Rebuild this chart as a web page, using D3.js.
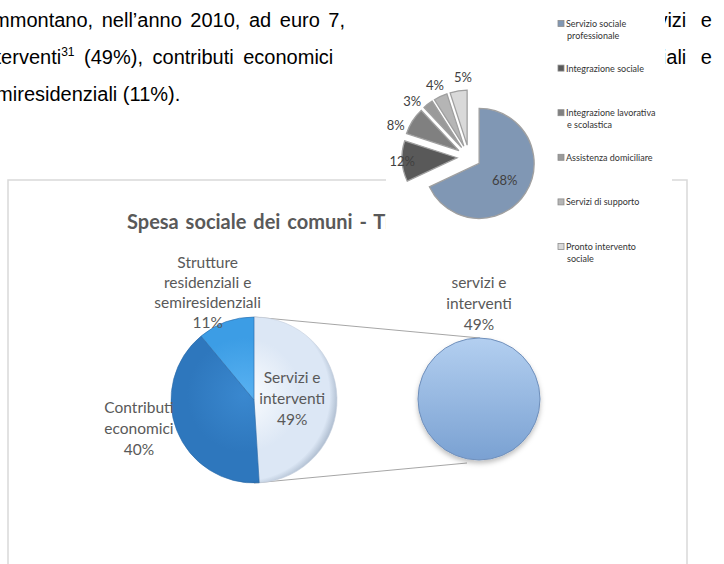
<!DOCTYPE html>
<html>
<head>
<meta charset="utf-8">
<script src="https://cdn.jsdelivr.net/npm/d3@7"></script>
<style>
  body { margin: 0; background: #fff; }
  svg { display: block; }
</style>
</head>
<body>
<div id="chart-area"></div>
<script>
// text of the page around the chart
let docLeft = ["ammontano, nell’anno 2010, ad euro 7,", "interventi", "semiresidenziali (11%)."];
let docLeftTail = ["", " (49%), contributi economici", ""];
let docRight = ["servizi e", "residenziali e", ""];

// main chart (pie of pie)
let mainTitle = "Spesa sociale dei comuni - Tipologia di spesa";
let mainCategories = ["Servizi e interventi", "Contributi economici", "Strutture residenziali e semiresidenziali"];
let mainValues = [49, 40, 11];
let mainLabels = [["Servizi e", "interventi", "49%"], ["Contributi", "economici", "40%"], ["Strutture", "residenziali e", "semiresidenziali", "11%"]];
let secondLabel = ["servizi e", "interventi", "49%"];

// small chart laid on top
let subCategories = ["Servizio sociale professionale", "Integrazione sociale", "Integrazione lavorativa e scolastica",
                     "Assistenza domiciliare", "Servizi di supporto", "Pronto intervento sociale"];
let subValues = [68, 12, 8, 3, 4, 5];
let subLegend = [["Servizio sociale", "professionale"], ["Integrazione sociale"], ["Integrazione lavorativa", "e scolastica"],
                 ["Assistenza domiciliare"], ["Servizi di supporto"], ["Pronto intervento", "sociale"]];

let width = 724, height = 564;

let svg = d3.select("#chart-area")
    .append("svg")
    .attr("width", width)
    .attr("height", height);

let defs = svg.append("defs");

// ---------- page text ----------
let docFont = "'Liberation Sans', Arial, sans-serif";
let docY = [27, 64, 101];
let docX = [-18, -20, -25];
let docSpacing = [3, 4, 0];

docLeft.forEach(function(t, i) {
    let tx = svg.append("text")
        .attr("x", docX[i])
        .attr("y", docY[i])
        .attr("font-family", docFont)
        .attr("font-size", "20px")
        .attr("word-spacing", docSpacing[i])
        .attr("fill", "#000");
    tx.append("tspan").text(t);
    if (i == 1) {
        tx.append("tspan").attr("font-size", "12px").attr("dy", -8).text("31");
        tx.append("tspan").attr("dy", 8).text(docLeftTail[i]);
    }
});

docRight.forEach(function(t, i) {
    svg.append("text")
        .attr("x", 712)
        .attr("y", docY[i])
        .attr("text-anchor", "end")
        .attr("font-family", docFont)
        .attr("font-size", "20px")
        .attr("word-spacing", 9)
        .text(t);
});

// ---------- main chart ----------
let chartFont = "Lato, 'Open Sans', sans-serif";

svg.append("rect")
    .attr("x", 8).attr("y", 180)
    .attr("width", 679).attr("height", 420)
    .attr("fill", "none")
    .attr("stroke", "#d9d9d9")
    .attr("stroke-width", 1.5);

svg.append("text")
    .attr("x", 127).attr("y", 229)
    .attr("font-family", chartFont)
    .attr("font-size", "20px")
    .attr("font-weight", "bold")
    .attr("word-spacing", 2)
    .attr("fill", "#595959")
    .text(mainTitle);

let pcx = 254, pcy = 400, pr = 83;
let mainColors = [["#fbfdff", "#dce7f5", "#aab9cc"], ["#3a88cf", "#2e77bd", "#24609a"], ["#58b1f1", "#3c9de5", "#2f82c2"]];

mainColors.forEach(function(c, i) {
    let gr = defs.append("radialGradient")
        .attr("id", "mg" + i)
        .attr("gradientUnits", "userSpaceOnUse")
        .attr("cx", -10).attr("cy", -5).attr("r", pr + 12);
    gr.append("stop").attr("offset", "0").attr("stop-color", c[0]);
    gr.append("stop").attr("offset", "0.6").attr("stop-color", c[1]);
    gr.append("stop").attr("offset", "0.9").attr("stop-color", c[1]);
    gr.append("stop").attr("offset", "1").attr("stop-color", c[2]);
});

let pie = d3.pie().sort(null).value(function(d) { return d; });
let mainArcs = pie(mainValues);
let arc = d3.arc().innerRadius(0).outerRadius(pr);

// connector lines to the second circle
let scx = 479, scy = 399, sr = 61;
let lineColor = "#a6a6a6";
svg.append("line")
    .attr("x1", pcx).attr("y1", pcy - pr)
    .attr("x2", scx + 1).attr("y2", scy - sr)
    .attr("stroke", lineColor).attr("stroke-width", 1);
svg.append("line")
    .attr("x1", pcx).attr("y1", pcy + pr)
    .attr("x2", scx - 12).attr("y2", scy + sr + 3)
    .attr("stroke", lineColor).attr("stroke-width", 1);

let pg = svg.append("g").attr("transform", "translate(" + pcx + "," + pcy + ")");

pg.selectAll("path")
    .data(mainArcs)
    .enter()
    .append("path")
    .attr("d", arc)
    .attr("fill", function(d, i) { return "url(#mg" + i + ")"; })
    .attr("stroke", function(d, i) { return i == 0 ? "#c2cddb" : "#2a6aa8"; })
    .attr("stroke-width", 0.6);

// labels
let labelArc = d3.arc().innerRadius(pr * 1.4).outerRadius(pr * 1.4);
let insideArc = d3.arc().innerRadius(pr * 0.46).outerRadius(pr * 0.46);
mainArcs.forEach(function(d, i) {
    let lines = mainLabels[i];
    let p = i == 0 ? insideArc.centroid(d) : labelArc.centroid(d);
    if (i == 1) { p[0] -= 7; p[1] -= 14; }
    if (i == 2) { p[0] -= 7; p[1] += 2; }
    let lh = i == 2 ? 20 : 21;
    let y0 = p[1] - (lines.length - 1) * lh / 2;
    let t = pg.append("text")
        .attr("text-anchor", "middle")
        .attr("font-family", chartFont)
        .attr("font-size", "15.5px")
        .attr("fill", "#595959");
    lines.forEach(function(l, j) {
        t.append("tspan").attr("x", p[0]).attr("y", y0 + j * lh + 5).text(l);
    });
});

// second circle: the 49% slice shown whole
let sg = defs.append("linearGradient").attr("id", "sg").attr("x1", 0).attr("y1", 0).attr("x2", 0).attr("y2", 1);
sg.append("stop").attr("offset", "0").attr("stop-color", "#b3cff0");
sg.append("stop").attr("offset", "1").attr("stop-color", "#7aa1d2");
let sh = defs.append("filter").attr("id", "shadow").attr("x", "-20%").attr("y", "-20%").attr("width", "140%").attr("height", "150%");
sh.append("feDropShadow").attr("dx", 0).attr("dy", 3).attr("stdDeviation", 2.5).attr("flood-color", "#000").attr("flood-opacity", 0.25);

let secondPie = d3.pie()([mainValues[0]]);
svg.append("g")
    .attr("transform", "translate(" + scx + "," + scy + ")")
    .selectAll("path")
    .data(secondPie)
    .enter()
    .append("path")
    .attr("d", d3.arc().innerRadius(0).outerRadius(sr))
    .attr("fill", "url(#sg)")
    .attr("stroke", "#6f8fbb")
    .attr("stroke-width", 1)
    .attr("filter", "url(#shadow)");

let st = svg.append("text")
    .attr("text-anchor", "middle")
    .attr("font-family", chartFont)
    .attr("font-size", "15.5px")
    .attr("fill", "#595959");
secondLabel.forEach(function(l, j) {
    st.append("tspan").attr("x", scx).attr("y", scy - sr - 55 + j * 21 + 5).text(l);
});

// ---------- overlay chart ----------
svg.append("path")
    .attr("d", "M346,0H665V110H672V268H386V172H346Z")
    .attr("fill", "#fff");

let subColors = ["#8097b4", "#595959", "#808080", "#9a9a9a", "#b5b5b5", "#d9d9d9"];
let gcx = 469, gcy = 157, gr = 55, explode = 12;
let subArcs = pie(subValues);
let subArc = d3.arc().innerRadius(0).outerRadius(gr);

let gg = svg.append("g").attr("transform", "translate(" + gcx + "," + gcy + ")");

function mid(d) { return (d.startAngle + d.endAngle) / 2; }
function shift(d) {
    let a = mid(d);
    return [Math.sin(a) * explode, -Math.cos(a) * explode];
}

gg.selectAll("path")
    .data(subArcs)
    .enter()
    .append("path")
    .attr("d", subArc)
    .attr("transform", function(d) { let s = shift(d); return "translate(" + s[0] + "," + s[1] + ")"; })
    .attr("fill", function(d, i) { return subColors[i]; })
    .attr("stroke", "#a0a0a0")
    .attr("stroke-width", 1.3);

// small slices: spread their labels so they do not collide
let small = subArcs.filter(function(d) { return d.value < 10; });
let meanA = d3.mean(small, mid) - 0.06;
let spread = 21.5 * Math.PI / 180;
small.forEach(function(d, k) { d.labelAngle = meanA + (k - (small.length - 1) / 2) * spread; });

gg.selectAll("text")
    .data(subArcs)
    .enter()
    .append("text")
    .attr("transform", function(d) {
        let a = d.labelAngle != null ? d.labelAngle : mid(d);
        let s = shift(d);
        let rr = d.value > 50 ? gr * 0.55 : d.value >= 10 ? gr : gr + 13;
        return "translate(" + (s[0] + Math.sin(a) * rr) + "," + (s[1] - Math.cos(a) * rr + 5) + ")";
    })
    .attr("text-anchor", "middle")
    .attr("font-family", chartFont)
    .attr("font-size", "13px")
    .attr("fill", "#404040")
    .text(function(d) { return d.value + "%"; });

// legend
let legY = d3.scaleLinear().domain([0, subCategories.length - 1]).range([24, 247]);
let leg = svg.append("g");
subLegend.forEach(function(lines, i) {
    leg.append("rect")
        .attr("x", 558).attr("y", legY(i) - 3.5)
        .attr("width", 6).attr("height", 6)
        .attr("fill", subColors[i])
        .attr("stroke", "#8c8c8c")
        .attr("stroke-width", 0.8);
    lines.forEach(function(l, j) {
        leg.append("text")
            .attr("x", j == 0 ? 566 : 567)
            .attr("y", legY(i) + 3 + j * 12)
            .attr("font-family", chartFont)
            .attr("font-size", "9px")
            .attr("fill", "#333")
            .text(l);
    });
});
</script>
</body>
</html>
